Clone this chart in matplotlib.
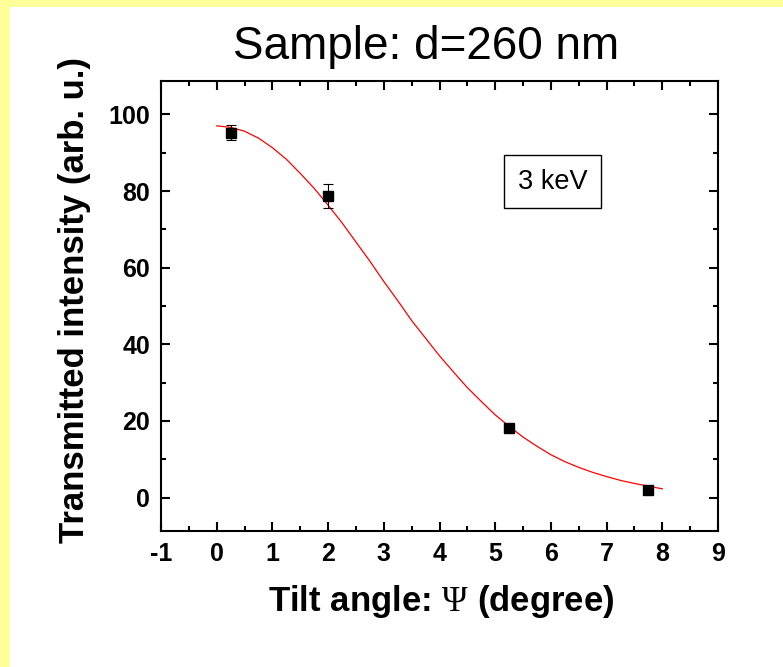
import matplotlib
matplotlib.use("Agg")
import matplotlib.pyplot as plt
from matplotlib.patches import Rectangle
from matplotlib.ticker import MultipleLocator

# measured points
tilt = [0.25, 2.0, 5.25, 7.75]
intensity = [95.2, 78.7, 18.2, 2.1]
err = [2.0, 3.2, 0.5, 0.5]

# fit curve, every 0.25 degree
fit_x = [0, 0.25, 0.5, 0.75, 1.0, 1.25, 1.5, 1.75, 2.0, 2.25, 2.5, 2.75, 3.0, 3.25,
         3.5, 3.75, 4.0, 4.25, 4.5, 4.75, 5.0, 5.25, 5.5, 5.75, 6.0, 6.25, 6.5,
         6.75, 7.0, 7.25, 7.5, 7.75, 8.0]
fit_y = [97.0, 96.6, 95.6, 93.8, 91.3, 88.3, 84.6, 80.7, 76.3, 71.7, 66.7, 61.7,
         56.4, 51.4, 46.2, 41.6, 37.0, 32.8, 28.7, 25.1, 21.6, 18.6, 15.8, 13.4,
         11.2, 9.4, 7.9, 6.6, 5.5, 4.5, 3.7, 3.0, 2.3]

plt.rcParams['font.family'] = ['Liberation Sans', 'DejaVu Sans']
plt.rcParams['axes.unicode_minus'] = False
plt.rcParams['mathtext.fontset'] = 'custom'
plt.rcParams['mathtext.rm'] = 'Liberation Serif'

fig = plt.figure(figsize=(7.83, 6.67), dpi=100)
fig.patch.set_facecolor('#ffff99')
# white page, yellow strip left and top
fig.patches.append(Rectangle((10 / 783, 0), 1, 1 - 7 / 667, transform=fig.transFigure,
                             facecolor='white', edgecolor='none', zorder=-1))

ax = fig.add_axes([161 / 783, 1 - 531 / 667, 557 / 783, 450 / 667])
ax.plot(fit_x, fit_y, color='red', lw=0.9, zorder=2)
ax.errorbar(tilt, intensity, yerr=err, fmt='s', color='black', ms=6.5,
            ecolor='black', elinewidth=0.8, capsize=3.3, capthick=0.8, zorder=3)

ax.set_xlim(-1, 9)
ax.set_ylim(-8.7, 108.7)
ax.xaxis.set_major_locator(MultipleLocator(1))
ax.xaxis.set_minor_locator(MultipleLocator(0.5))
ax.yaxis.set_major_locator(MultipleLocator(20))
ax.yaxis.set_minor_locator(MultipleLocator(10))
ax.tick_params(which='both', direction='in', top=True, right=True, width=1.5)
ax.tick_params(which='major', length=6.5, labelsize=18, pad=8)
ax.tick_params(which='minor', length=3.6)
for lab in ax.get_xticklabels() + ax.get_yticklabels():
    lab.set_fontweight('bold')
for s in ax.spines.values():
    s.set_linewidth(1.5)

ax.text(0.703, 0.776, '3 keV', transform=ax.transAxes, fontsize=19.5,
        ha='center', va='center',
        bbox=dict(boxstyle='square,pad=0.5', facecolor='white', edgecolor='black', lw=1))

fig.text(0.544, 0.93, 'Sample: d=260 nm', fontsize=33, ha='center', va='center')
fig.text(441 / 783, 1 - 602 / 667, 'Tilt angle: $\\Psi$ (degree)', fontsize=25,
         fontweight='bold', ha='center', va='center')
fig.text(75 / 783, 1 - 300 / 667, 'Transmitted intensity (arb. u.)', fontsize=25,
         fontweight='bold', ha='center', va='center', rotation=90)

fig.savefig('out.png', dpi=100, facecolor=fig.get_facecolor())
